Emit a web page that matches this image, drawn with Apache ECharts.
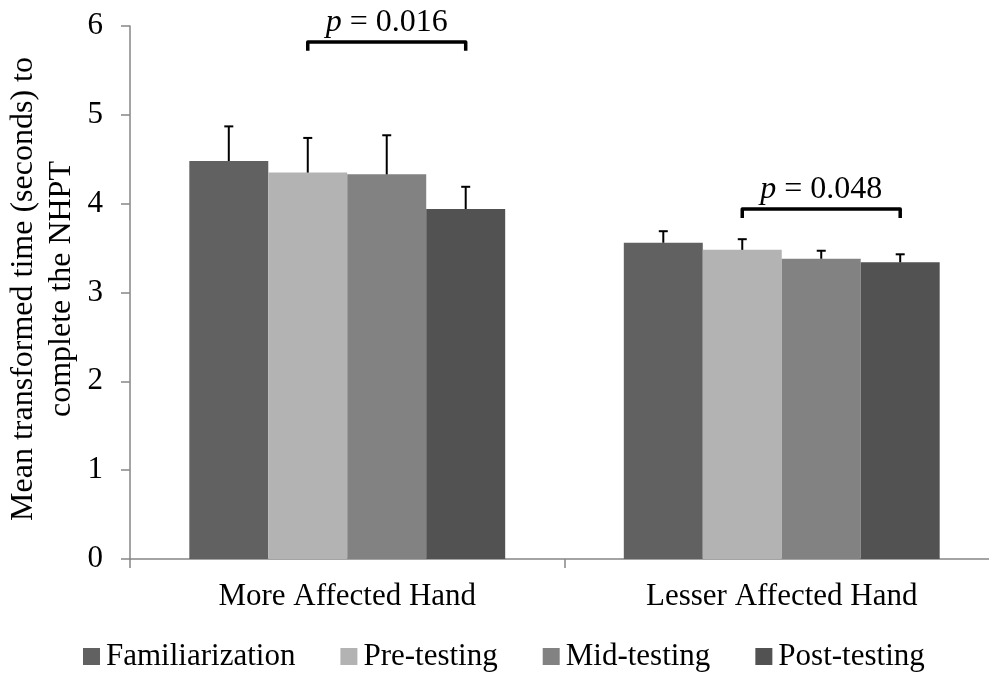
<!DOCTYPE html>
<html>
<head>
<meta charset="utf-8">
<script src="https://cdn.jsdelivr.net/npm/echarts@6/dist/echarts.min.js"></script>
<style>html,body{margin:0;padding:0;background:#fff;overflow:hidden}#c{width:1000px;height:675px}</style>
</head>
<body>
<div id="c"></div>
<script>
var categories = ['More Affected Hand', 'Lesser Affected Hand'];
var seriesNames = ['Familiarization', 'Pre-testing', 'Mid-testing', 'Post-testing'];
var familiarization = [4.48, 3.56];
var preTesting = [4.35, 3.48];
var midTesting = [4.33, 3.38];
var postTesting = [3.94, 3.34];
var famUpper = [4.87, 3.69];
var preUpper = [4.74, 3.60];
var midUpper = [4.77, 3.47];
var postUpper = [4.19, 3.43];
var yTicks = [0, 1, 2, 3, 4, 5, 6];
var bracketCats = [0, 1];
var bracketFrom = [1, 1];
var bracketTo = [3, 3];
var bracketTop = [5.82, 3.94];
var bracketDrop = [0.1, 0.1];
var bracketLabels = ['0.016', '0.048'];

var colors = ['#616161', '#b3b3b3', '#828282', '#525252'];
var means = [familiarization, preTesting, midTesting, postTesting];
var uppers = [famUpper, preUpper, midUpper, postUpper];
var GAP = 0.273;
var FONT = 'Liberation Serif';
var FS = 31;

var chart = echarts.init(document.getElementById('c'));

function barCenter(api, cat, k) {
  var c = api.coord([cat, 0]);
  var band = api.size([1, 0])[0];
  var bw = band * (1 - GAP) / 4;
  return { x: c[0] + (k - 1.5) * bw, bw: bw, y0: c[1] };
}

var series = [];
seriesNames.forEach(function (name, k) {
  series.push({
    name: name, type: 'bar', data: means[k], barGap: '0%', barCategoryGap: (GAP * 100) + '%',
    itemStyle: { color: colors[k] }, animation: false
  });
});
seriesNames.forEach(function (name, k) {
  series.push({
    type: 'custom', animation: false, silent: true, z: 5,
    data: categories.map(function (c, i) { return [i, means[k][i], uppers[k][i]]; }),
    encode: { x: 0, y: [1, 2] },
    renderItem: function (params, api) {
      var cat = api.value(0);
      var bc = barCenter(api, cat, k);
      var yl = api.coord([cat, api.value(1)])[1];
      var yh = api.coord([cat, api.value(2)])[1];
      var cap = 4.5;
      return { type: 'group', children: [
        { type: 'line', shape: { x1: bc.x, y1: yl, x2: bc.x, y2: yh }, style: { stroke: '#000', lineWidth: 2 } },
        { type: 'line', shape: { x1: bc.x - cap, y1: yh, x2: bc.x + cap, y2: yh }, style: { stroke: '#000', lineWidth: 2 } }
      ]};
    }
  });
});
series.push({
  type: 'custom', animation: false, silent: true, z: 6,
  data: bracketCats.map(function (c, i) { return [c, bracketTop[i], bracketTop[i] - bracketDrop[i], bracketFrom[i], bracketTo[i], i]; }),
  encode: { x: 0, y: [1, 2] },
  renderItem: function (params, api) {
    var cat = api.value(0);
    var i = api.value(5);
    var a = barCenter(api, cat, api.value(3));
    var b = barCenter(api, cat, api.value(4));
    var yt = api.coord([cat, api.value(1)])[1];
    var yb = api.coord([cat, api.value(2)])[1];
    return { type: 'group', children: [
      { type: 'polyline', shape: { points: [[a.x, yb], [a.x, yt], [b.x, yt], [b.x, yb]] },
        style: { stroke: '#000', lineWidth: 3.5, fill: null, lineJoin: 'round' } },
      { type: 'text', x: (a.x + b.x) / 2, y: yt - 3,
        style: { text: '{i|p} = ' + bracketLabels[i], align: 'center', verticalAlign: 'bottom',
          font: '32px "' + FONT + '"', fill: '#000',
          rich: { i: { fontStyle: 'italic', fontFamily: FONT, fontSize: 32, fill: '#000' } } } }
    ]};
  }
});

chart.setOption({
  animation: false,
  color: colors,
  grid: { left: 130, right: 1, top: 26, bottom: 116, containLabel: false },
  legend: {
    data: seriesNames, top: 641, left: 83, padding: 0, icon: 'rect', itemWidth: 17, itemHeight: 17,
    itemGap: 45, textStyle: { fontFamily: FONT, fontSize: FS, color: '#000', padding: [0, 0, 0, 1] }
  },
  xAxis: {
    type: 'category', data: categories,
    axisLine: { lineStyle: { color: '#868686', width: 1.5 } },
    axisTick: { show: true, length: 9, lineStyle: { color: '#868686', width: 1.5 } },
    axisLabel: { fontFamily: FONT, fontSize: FS, color: '#000', margin: 22 }
  },
  yAxis: {
    type: 'value', min: 0, max: 6, interval: 1,
    axisLine: { show: true, lineStyle: { color: '#868686', width: 1.5 } },
    axisTick: { show: true, length: 9, lineStyle: { color: '#868686', width: 1.5 } },
    splitLine: { show: false },
    axisLabel: { fontFamily: FONT, fontSize: FS, color: '#000', margin: 27,
      formatter: function (v) { return yTicks.indexOf(v) >= 0 ? String(v) : ''; } }
  },
  graphic: [{
    type: 'text', x: 43, y: 289, rotation: Math.PI / 2,
    style: { text: 'Mean transformed time (seconds) to\ncomplete the NHPT', align: 'center', verticalAlign: 'middle',
      font: '32px "' + FONT + '"', fill: '#000', lineHeight: 38 }
  }],
  series: series
});
</script>
</body>
</html>
